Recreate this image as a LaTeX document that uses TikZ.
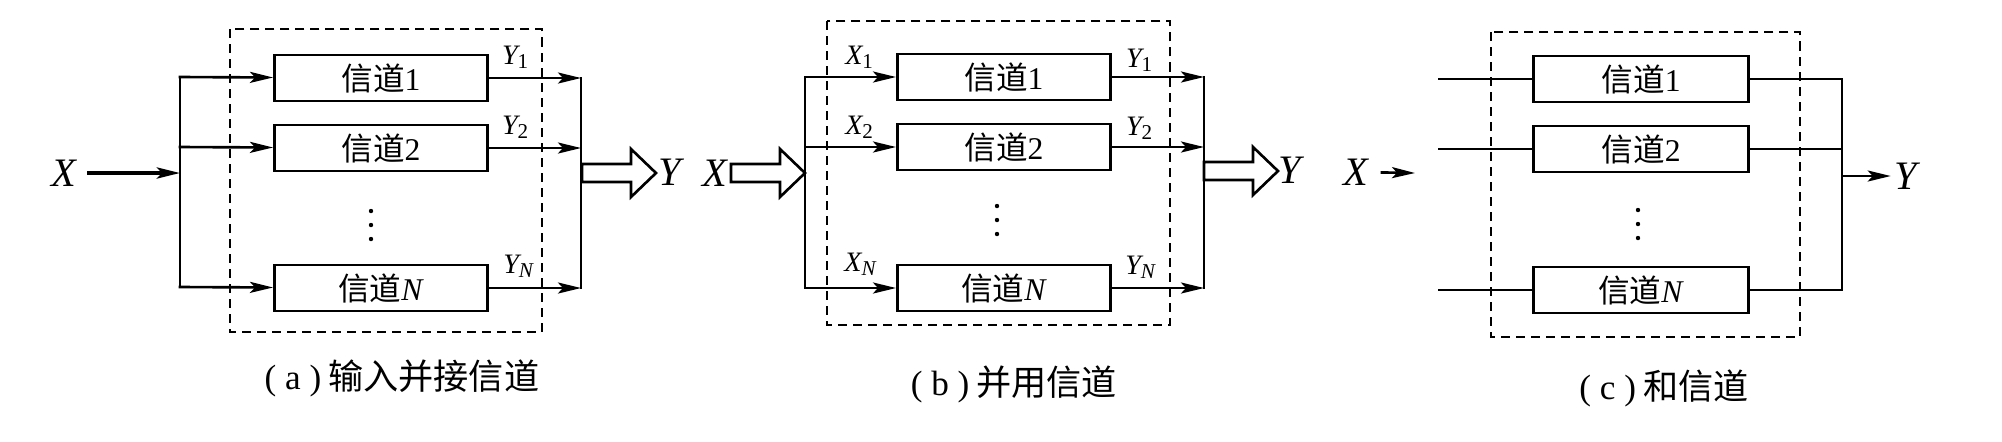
\documentclass[tikz,border=0pt]{standalone}
\usepackage{fontspec}
\usepackage{mathtools}
\setmainfont{Liberation Serif}
\newfontfamily\cjk{Noto Sans CJK SC}
\usetikzlibrary{arrows.meta}

\begin{document}
\begin{tikzpicture}[x=0.01cm, y=-0.01cm,
	chan/.style={draw, line width=0.8pt, minimum width=2.13cm, minimum height=0.46cm, inner sep=0pt, font=\fontsize{9}{10}\selectfont},
	wire/.style={line width=0.75pt, line cap=rect},
	link/.style={wire, -{Stealth[length=2.3mm, width=1.1mm, inset=0.5mm]}},
	frame/.style={line width=0.7pt, dash pattern=on 0.9mm off 0.6mm},
	sig/.style={font=\fontsize{11.5}{12}\selectfont, inner sep=1pt},
	lbl/.style={font=\fontsize{8}{9}\selectfont, inner sep=0pt},
	capt/.style={font=\fontsize{10}{11}\selectfont, inner sep=0pt},
	hollow/.pic={\draw[line width=0.75pt] (0,-9) -- (49,-9) -- (49,-24) -- (74,0) -- (49,24) -- (49,9) -- (0,9) -- cycle;},
	dots/.pic={\fill (0,-14) circle (0.22mm); \fill (0,0) circle (0.22mm); \fill (0,14) circle (0.22mm);}
]
	\useasboundingbox (0,0) rectangle (2002,441);

	% (a) input side joined
	\node[sig] (a-X) at (65,173) {\textit{X}};
	\coordinate (a-in) at (180,173);
	\coordinate (a-b1) at (180,77);
	\coordinate (a-b2) at (180,147);
	\coordinate (a-bN) at (180,287);
	\node[chan] (a-c1) at (381,78) {{\cjk 信道}1};
	\node[chan] (a-c2) at (381,148) {{\cjk 信道}2};
	\node[chan] (a-cN) at (381,288) {{\cjk 信道}\textit{N}};
	\coordinate (a-o1) at (581,78);
	\coordinate (a-o2) at (581,148);
	\coordinate (a-oN) at (581,288);
	\coordinate (a-out) at (582,173);
	\draw[link, line width=1.1pt, shorten <=2pt] (a-X) -- (a-in);
	\draw[wire] (a-b1) -- (a-bN);
	\draw[link] (a-b1) -- (a-c1);
	\draw[link] (a-b2) -- (a-c2);
	\draw[link] (a-bN) -- (a-cN);
	\draw[link] (a-c1) -- (a-o1);
	\draw[link] (a-c2) -- (a-o2);
	\draw[link] (a-cN) -- (a-oN);
	\draw[wire] (a-o1) -- (a-oN);
	\node[lbl] (a-y1) at (516,57) {$\textit{Y}_{\textrm{1}}$};
	\node[lbl] (a-y2) at (516,127) {$\textit{Y}_{\textrm{2}}$};
	\node[lbl] (a-yN) at (519,266) {$\textit{Y}_{\textit{N}}$};
	\pic at (a-out) {hollow};
	\node[sig] (a-Y) at (672,172) {\textit{Y}};
	\pic at (371,225) {dots};
	\draw[frame] (230,29) rectangle (542,332);
	\node[capt] (a-cap) at (402,378) {(\hspace{2.5pt}a\hspace{2.5pt})\hspace{2pt}{\cjk 输入并接信道}};

	% (b) channels used side by side
	\node[sig] (b-X) at (715,173) {\textit{X}};
	\coordinate (b-in) at (731,173);
	\coordinate (b-b1) at (805,77);
	\coordinate (b-b2) at (805,147);
	\coordinate (b-bN) at (805,288);
	\node[chan] (b-c1) at (1004,77) {{\cjk 信道}1};
	\node[chan] (b-c2) at (1004,147) {{\cjk 信道}2};
	\node[chan] (b-cN) at (1004,288) {{\cjk 信道}\textit{N}};
	\coordinate (b-o1) at (1204,77);
	\coordinate (b-o2) at (1204,147);
	\coordinate (b-oN) at (1204,288);
	\coordinate (b-out) at (1204,171);
	\pic at (b-in) {hollow};
	\draw[wire] (b-b1) -- (b-bN);
	\draw[link] (b-b1) -- (b-c1);
	\draw[link] (b-b2) -- (b-c2);
	\draw[link] (b-bN) -- (b-cN);
	\draw[link] (b-c1) -- (b-o1);
	\draw[link] (b-c2) -- (b-o2);
	\draw[link] (b-cN) -- (b-oN);
	\draw[wire] (b-o1) -- (b-oN);
	\node[lbl] (b-x1) at (860,57) {$\textit{X}_{\textrm{1}}$};
	\node[lbl] (b-x2) at (860,127) {$\textit{X}_{\textrm{2}}$};
	\node[lbl] (b-xN) at (861,264) {$\textit{X}_{\textit{N}}$};
	\node[lbl] (b-y1) at (1140,60) {$\textit{Y}_{\textrm{1}}$};
	\node[lbl] (b-y2) at (1140,128) {$\textit{Y}_{\textrm{2}}$};
	\node[lbl] (b-yN) at (1141,267) {$\textit{Y}_{\textit{N}}$};
	\pic at (b-out) {hollow};
	\node[sig] (b-Y) at (1292,170) {\textit{Y}};
	\pic at (997,220) {dots};
	\draw[frame] (827,21) rectangle (1170,325);
	\node[capt] (b-cap) at (1014,384) {(\hspace{2.5pt}b\hspace{2.5pt})\hspace{2pt}{\cjk 并用信道}};

	% (c) sum channel
	\node[sig] (c-X) at (1356,172) {\textit{X}};
	\coordinate (c-Xtip) at (1415,173);
	\draw[link, shorten <=2.5pt] (c-X) -- (c-Xtip);
	\coordinate (c-i1) at (1439,79);
	\coordinate (c-i2) at (1439,149);
	\coordinate (c-iN) at (1439,290);
	\node[chan, minimum width=2.15cm] (c-c1) at (1641,79) {{\cjk 信道}1};
	\node[chan, minimum width=2.15cm] (c-c2) at (1641,149) {{\cjk 信道}2};
	\node[chan, minimum width=2.15cm] (c-cN) at (1641,290) {{\cjk 信道}\textit{N}};
	\coordinate (c-o1) at (1842,79);
	\coordinate (c-o2) at (1842,149);
	\coordinate (c-oN) at (1842,290);
	\coordinate (c-mid) at (1842,176);
	\node[sig] (c-Y) at (1908,176) {\textit{Y}};
	\draw[wire] (c-i1) -- (c-c1);
	\draw[wire] (c-i2) -- (c-c2);
	\draw[wire] (c-iN) -- (c-cN);
	\draw[wire] (c-c1) -- (c-o1);
	\draw[wire] (c-c2) -- (c-o2);
	\draw[wire] (c-cN) -- (c-oN);
	\draw[wire] (c-o1) -- (c-oN);
	\draw[link] (c-mid) -- (c-Y);
	\pic at (1638,224) {dots};
	\draw[frame] (1491,32) rectangle (1800,337);
	\node[capt] (c-cap) at (1664,388) {(\hspace{2.5pt}c\hspace{2.5pt})\hspace{2pt}{\cjk 和信道}};
\end{tikzpicture}
\end{document}
